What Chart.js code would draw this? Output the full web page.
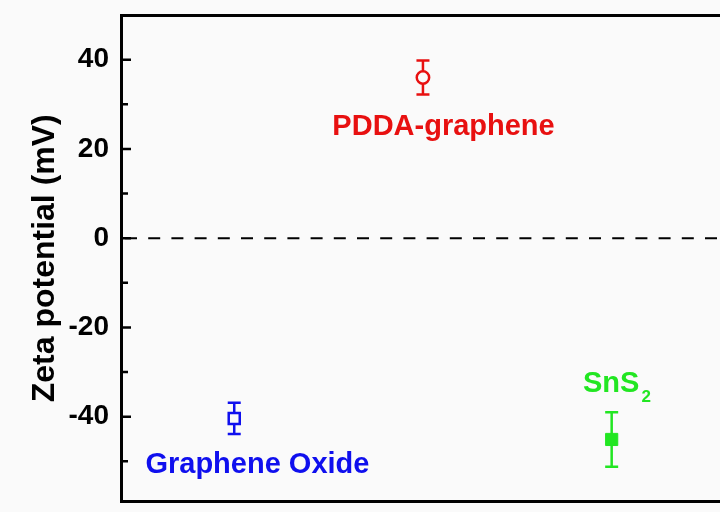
<!DOCTYPE html>
<html>
<head>
<meta charset="utf-8">
<script src="https://cdn.jsdelivr.net/npm/chart.js@4"></script>
<style>
  html, body { margin: 0; padding: 0; background: #fafafa; overflow: hidden; }
  #wrap { width: 720px; height: 512px; }
</style>
</head>
<body>
<div id="wrap"><canvas id="c" width="720" height="512"></canvas></div>
<script>
// Zeta potential of the three dispersions (mV), mean and standard deviation
const samples = ['Graphene Oxide', 'PDDA-graphene', 'SnS2'];
const samplePos = [1, 2, 3];
const zeta = [-40.4, 36.0, -45.1];
const zetaErr = [3.5, 3.8, 6.1];
const sampleColors = ['#0f0fee', '#e81010', '#22e622'];

// y axis: minor ticks every 10, labels every 20
const yTickValues = [-50, -40, -30, -20, -10, 0, 10, 20, 30, 40];
const yLabelValues = [-40, -20, 0, 20, 40];

const BG = '#fafafa';
const FONT = '"Liberation Sans", Arial, sans-serif';

// where each sample name is written, in data units (x, baseline y)
const nameAnchors = [
  { x: 1.123, y: -52.6, align: 'center' },
  { x: 2.109, y: 23.2, align: 'center' },
  { x: 2.848, y: -34.5, align: 'left' }
];

const markerStyle = [
  { pointStyle: 'rect', radius: 7.8, fill: BG, width: 2.5 },
  { pointStyle: 'circle', radius: 6.2, fill: BG, width: 2.5 },
  { pointStyle: 'rect', radius: 8.6, fill: null, width: 1 }
];

// keep the plot frame exactly where the layout padding puts it
function noPad(s) {
  s.paddingTop = 0; s.paddingBottom = 0; s.paddingLeft = 0; s.paddingRight = 0;
}

const decorations = {
  id: 'decorations',
  beforeDatasetsDraw(chart) {
    const { ctx, chartArea: a, scales: { x, y } } = chart;
    ctx.save();
    // dashed reference line at 0 mV
    const y0 = y.getPixelForValue(0);
    ctx.setLineDash([12, 11.2]);
    ctx.lineDashOffset = -4;
    ctx.lineWidth = 2;
    ctx.strokeStyle = '#000';
    ctx.beginPath();
    ctx.moveTo(a.left, y0);
    ctx.lineTo(a.right, y0);
    ctx.stroke();
    ctx.setLineDash([]);
    // error bars
    zeta.forEach((v, i) => {
      const px = x.getPixelForValue(samplePos[i]);
      const top = y.getPixelForValue(v + zetaErr[i]);
      const bot = y.getPixelForValue(v - zetaErr[i]);
      ctx.strokeStyle = sampleColors[i];
      ctx.lineWidth = 2.5;
      ctx.beginPath();
      ctx.moveTo(px, top); ctx.lineTo(px, bot);
      ctx.moveTo(px - 6.5, top); ctx.lineTo(px + 6.5, top);
      ctx.moveTo(px - 6.5, bot); ctx.lineTo(px + 6.5, bot);
      ctx.stroke();
    });
    ctx.restore();
  },
  afterDraw(chart) {
    const { ctx, chartArea: a, scales: { x, y } } = chart;
    ctx.save();
    // inward tick marks on the left axis
    ctx.strokeStyle = '#000';
    ctx.lineWidth = 2.5;
    ctx.beginPath();
    yTickValues.forEach(v => {
      const py = y.getPixelForValue(v);
      const len = yLabelValues.includes(v) ? 10 : 7;
      ctx.moveTo(a.left, py);
      ctx.lineTo(a.left + len, py);
    });
    ctx.stroke();
    // sample names, trailing digits as subscript
    ctx.textBaseline = 'alphabetic';
    samples.forEach((name, i) => {
      const m = name.match(/^(.*?)(\d*)$/);
      const main = m[1], sub = m[2];
      const anc = nameAnchors[i];
      let px = x.getPixelForValue(anc.x);
      const py = y.getPixelForValue(anc.y);
      ctx.fillStyle = sampleColors[i];
      ctx.font = 'bold 29px ' + FONT;
      const w = ctx.measureText(main).width;
      if (anc.align === 'center') px -= w / 2;
      ctx.textAlign = 'left';
      ctx.fillText(main, px, py);
      if (sub) {
        ctx.font = 'bold 17px ' + FONT;
        ctx.fillText(sub, px + w + 2, py + 10);
      }
    });
    ctx.restore();
  }
};

new Chart(document.getElementById('c'), {
  type: 'scatter',
  data: {
    datasets: samples.map((name, i) => ({
      label: name,
      data: [{ x: samplePos[i], y: zeta[i] }],
      pointStyle: markerStyle[i].pointStyle,
      pointRadius: markerStyle[i].radius,
      pointHoverRadius: markerStyle[i].radius,
      borderColor: sampleColors[i],
      backgroundColor: markerStyle[i].fill || sampleColors[i],
      pointBorderWidth: markerStyle[i].width
    }))
  },
  options: {
    responsive: false,
    animation: false,
    devicePixelRatio: 1,
    layout: { autoPadding: false, padding: { top: 15, bottom: 10.5, left: 0, right: 0 } },
    plugins: { legend: { display: false }, tooltip: { enabled: false } },
    scales: {
      x: {
        type: 'linear', position: 'bottom', min: 0.4, max: 3.574,
        ticks: { display: false },
        grid: { display: false, drawTicks: false },
        border: { display: true, color: '#000', width: 3 },
        afterFit(s) { s.height = 0; noPad(s); }
      },
      x2: {
        type: 'linear', position: 'top', display: true, min: 0.4, max: 3.574,
        ticks: { display: false },
        grid: { display: false, drawTicks: false },
        border: { display: true, color: '#000', width: 3 },
        afterFit(s) { s.height = 0; noPad(s); }
      },
      y: {
        type: 'linear', min: -59, max: 50,
        afterBuildTicks(s) { s.ticks = yTickValues.map(v => ({ value: v })); },
        ticks: {
          autoSkip: false,
          callback: v => (yLabelValues.includes(v) ? String(v) : ''),
          color: '#000',
          padding: 12,
          font: { family: FONT, size: 28, weight: 'bold' }
        },
        grid: { display: false, drawTicks: false },
        border: { display: true, color: '#000', width: 3 },
        title: {
          display: true,
          text: 'Zeta potential (mV)',
          color: '#000',
          font: { family: FONT, size: 32, weight: 'bold' },
          padding: { top: 26, bottom: 0 }
        },
        afterFit(s) { s.width = 121; noPad(s); }
      }
    }
  },
  plugins: [decorations]
});
</script>
</body>
</html>
